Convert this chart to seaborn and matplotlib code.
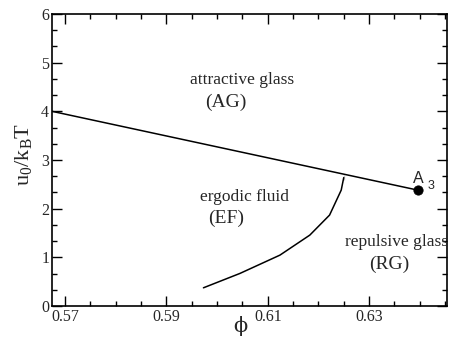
import matplotlib
matplotlib.use("Agg")
import matplotlib.pyplot as plt
import seaborn as sns
import pandas as pd
from matplotlib.ticker import MultipleLocator, AutoMinorLocator

# glass transition line (attractive/repulsive glass boundary) ending at A3
line_phi = [0.5674, 0.6397]
line_u = [4.0, 2.38]

# ergodic fluid / repulsive glass boundary
curve_phi = [0.5973, 0.6045, 0.6124, 0.6183, 0.6222, 0.6245, 0.6250, 0.6250]
curve_u = [0.376, 0.671, 1.047, 1.458, 1.869, 2.382, 2.587, 2.69]

# A3 singularity
a3_phi = [0.6397]
a3_u = [2.38]

x_ticks = [0.57, 0.59, 0.61, 0.63]
x_tick_labels = ["0.57", "0.59", "0.61", "0.63"]


def main():
    sns.set_style("ticks")
    plt.rcParams["font.family"] = ["Liberation Serif", "DejaVu Serif"]
    plt.rcParams["mathtext.fontset"] = "custom"
    plt.rcParams["mathtext.rm"] = "Liberation Serif"

    fig = plt.figure(figsize=(4.52, 3.39), dpi=100)
    ax = fig.add_axes([0.115, 0.097, 0.873, 0.862])

    line_df = pd.DataFrame({"phi": line_phi, "u": line_u})
    curve_df = pd.DataFrame({"phi": curve_phi, "u": curve_u})
    a3_df = pd.DataFrame({"phi": a3_phi, "u": a3_u})

    sns.lineplot(data=line_df, x="phi", y="u", sort=False, color="black", lw=1.1, ax=ax)
    sns.lineplot(data=curve_df, x="phi", y="u", sort=False, color="black", lw=1.1, ax=ax)
    sns.scatterplot(data=a3_df, x="phi", y="u", color="black", s=45, edgecolor="black",
                    zorder=5, ax=ax)

    ax.set_xlim(0.5674, 0.6453)
    ax.set_ylim(0, 6)
    ax.set_xticks(x_ticks)
    ax.set_xticklabels(x_tick_labels)
    ax.xaxis.set_minor_locator(MultipleLocator(0.005))
    ax.yaxis.set_major_locator(MultipleLocator(1))
    ax.yaxis.set_minor_locator(AutoMinorLocator(3))

    ax.tick_params(which="both", direction="in", top=True, right=True,
                   labelsize=11.5, width=1, color="black")
    ax.tick_params(which="major", length=7, pad=2)
    ax.tick_params(which="minor", length=3.5)
    for sp in ax.spines.values():
        sp.set_linewidth(1.2)
        sp.set_color("black")

    ax.set_xlabel("ϕ", fontsize=15, family=["DejaVu Serif"])
    ax.xaxis.set_label_coords(0.477, -0.035)
    ax.set_ylabel(r"$\mathregular{u_0/k_BT}$", fontsize=16)
    ax.yaxis.set_label_coords(-0.045, 0.52)

    ax.text(0.6049, 4.64, "attractive glass", fontsize=12.5, ha="center", va="center")
    ax.text(0.6017, 4.19, "(AG)", fontsize=14, ha="center", va="center")
    ax.text(0.6055, 2.24, "ergodic fluid", fontsize=12.5, ha="center", va="center")
    ax.text(0.6017, 1.80, "(EF)", fontsize=14, ha="center", va="center")
    ax.text(0.6354, 1.32, "repulsive glass", fontsize=12.5, ha="center", va="center")
    ax.text(0.6340, 0.86, "(RG)", fontsize=14, ha="center", va="center")
    ax.text(0.6386, 2.53, "A", fontsize=11.5, ha="left", va="baseline",
            family=["Liberation Sans"])
    ax.text(0.6415, 2.41, "3", fontsize=9, ha="left", va="baseline",
            family=["Liberation Sans"])

    fig.savefig("out.png", dpi=100)


if __name__ == "__main__":
    main()
